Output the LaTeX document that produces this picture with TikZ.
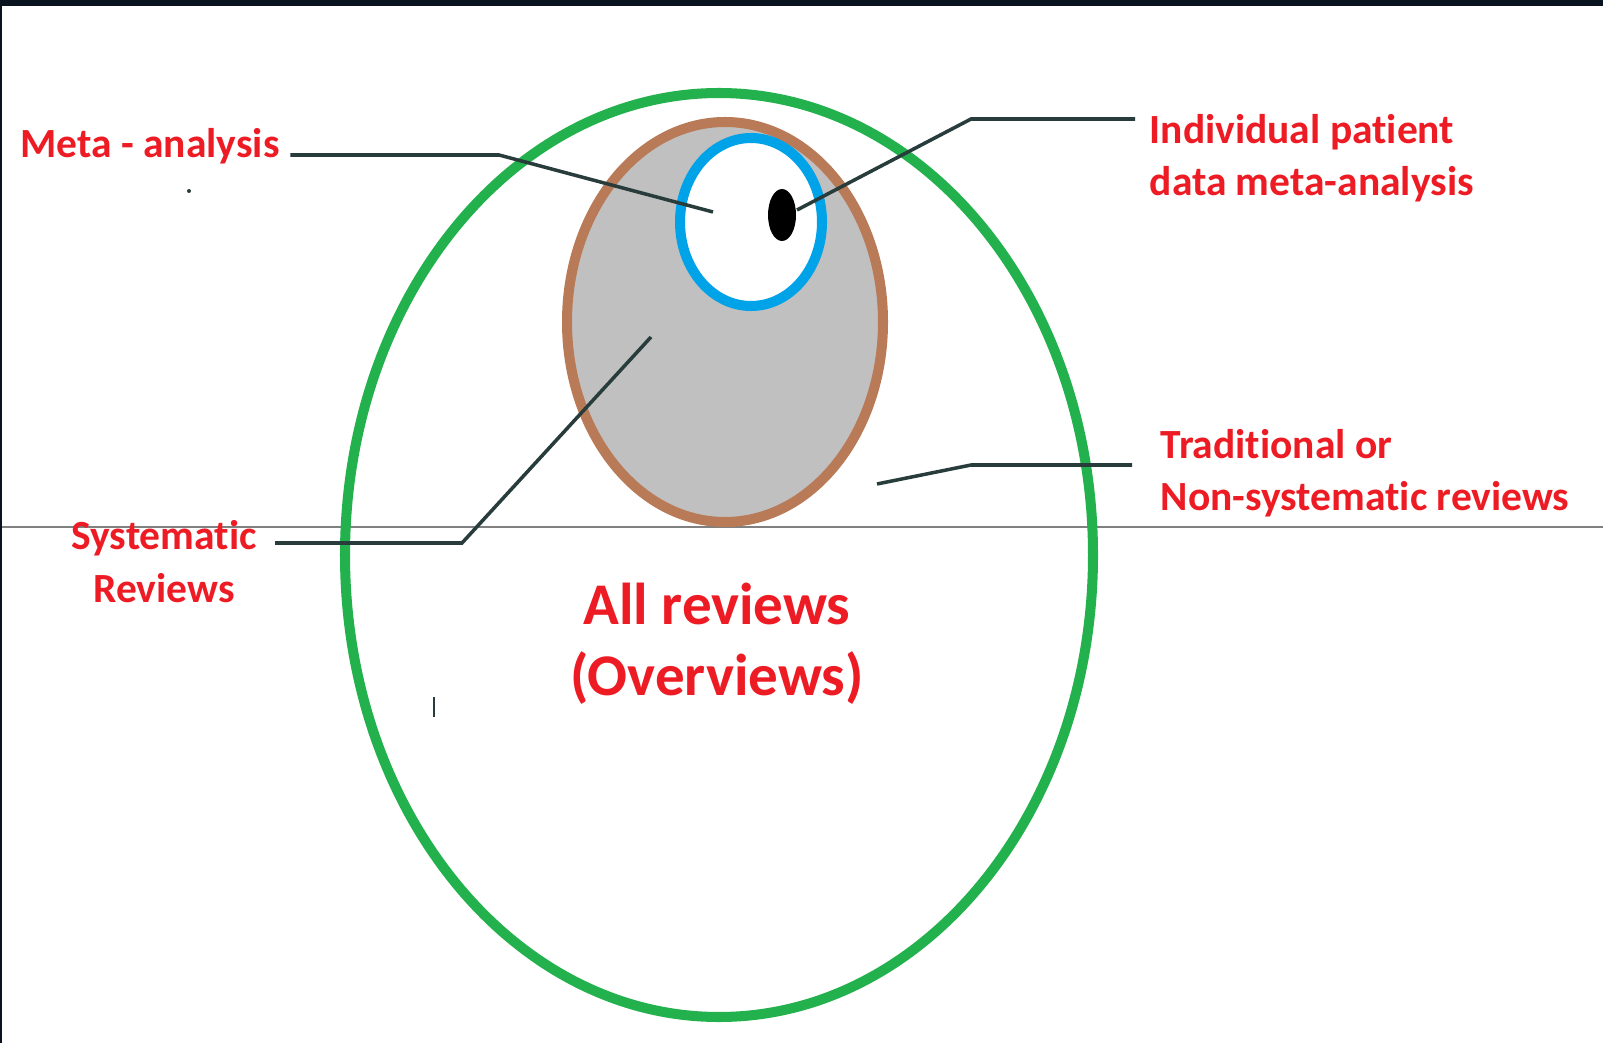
\documentclass[tikz,border=0pt]{standalone}
\usepackage{fontspec}
\setmainfont{Carlito}[Ligatures=NoCommon]
\definecolor{revRed}{RGB}{237,28,36}
\definecolor{revGreen}{RGB}{34,177,76}
\definecolor{revBrown}{RGB}{185,122,87}
\definecolor{revBlue}{RGB}{0,162,232}
\definecolor{revGray}{RGB}{192,192,192}
\definecolor{lineSlate}{RGB}{40,60,60}
\definecolor{frameDark}{RGB}{10,20,32}

\begin{document}
\begin{tikzpicture}[x=0.01cm, y=-0.01cm,
  label/.style={text=revRed, inner sep=0pt, align=left,
    font=\bfseries\fontsize{11.8}{14.8}\selectfont},
  leader/.style={lineSlate, line width=1pt},
  ring/.style={line width=2.85pt}]

  % canvas with the dark frame on top and left
  \useasboundingbox (0,0) rectangle (1603,1043);
  \fill[white] (0,0) rectangle (1603,1043);
  \fill[frameDark] (0,0) rectangle (1603,6);
  \fill[frameDark] (0,0) rectangle (2,1043);

  % thin rule across the sheet
  \draw[gray, line width=0.4pt] (2,527) -- (1603,527);

  % all reviews
  \draw[ring, revGreen] (719,555) ellipse [x radius=374, y radius=462];

  % systematic reviews
  \draw[ring, revBrown, fill=revGray] (725,322) ellipse [x radius=158, y radius=200];

  % meta-analysis
  \draw[ring, revBlue, fill=white] (751,222) ellipse [x radius=71, y radius=84];

  % individual patient data
  \fill[black] (782,215) ellipse [x radius=14, y radius=26];

  % labels (base of a two-line node is its last line)
  \node[label, anchor=base west] (meta) at (20,158) {Meta - analysis};
  \node[label, anchor=base west, font=\bfseries\fontsize{11.8}{15}\selectfont]
    (ipd) at (1149,196) {Individual patient\\data meta-analysis};
  \node[label, anchor=base west] (trad) at (1160,511) {Traditional or\\Non-systematic reviews};
  \node[label, anchor=base, align=center] (sysrev) at (164,602) {Systematic\\Reviews};
  \node[label, anchor=base, align=center, font=\bfseries\fontsize{16.8}{20}\selectfont]
    (allrev) at (717,695) {All reviews\\(Overviews)};

  % free ends of the leaders
  \coordinate (metaEnd) at (713,212);
  \coordinate (ipdEnd) at (797,210);
  \coordinate (tradEnd) at (877,484);
  \coordinate (sysEnd) at (651,337);

  % leaders
  \draw[leader] ([shift={(10,-3)}]meta.base east) -- (499,155) -- (metaEnd);
  \draw[leader] (ipdEnd) -- (971,119) -- ([shift={(-14,-77)}]ipd.base west);
  \draw[leader] (tradEnd) -- (971,465) -- ([shift={(-28,-46)}]trad.base west);
  \draw[leader] ([shift={(18,-59)}]sysrev.base east) -- (462,543) -- (sysEnd);

  % stray pen marks
  \fill[lineSlate] (189,191) circle [radius=2];
  \draw[lineSlate, line width=0.6pt] (434,697) -- (434,717);

\end{tikzpicture}
\end{document}
